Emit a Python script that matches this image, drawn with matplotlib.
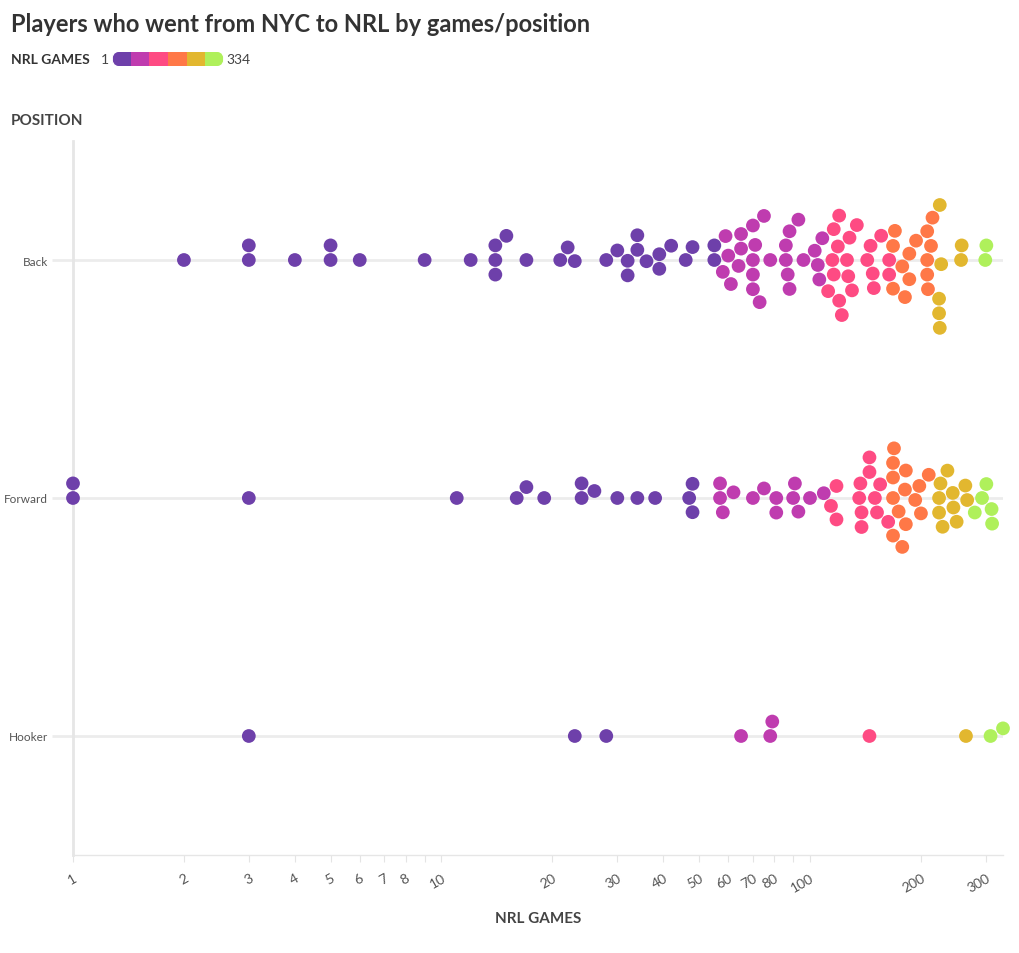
import numpy as np
import matplotlib.pyplot as plt
from matplotlib.patches import FancyBboxPatch, Rectangle

# NRL games per player, by position
positions = ["Back", "Forward", "Hooker"]

back_games = [2, 3, 3, 4, 5, 5, 6, 9, 12,
              14, 15, 14, 14, 17, 22, 21, 23, 28, 30, 32, 34, 34, 32, 36, 39, 39, 42, 46, 48, 55, 55,
              61, 65, 60, 65, 59, 64, 58, 70, 70, 75, 70, 78, 73, 71, 70, 86, 87, 93, 96, 88, 88, 86,
              103, 108, 106, 105,
              115, 120, 126, 119, 130, 112, 122, 134, 116, 128, 127, 120, 116, 143, 149, 156, 148, 146,
              164, 164,
              168, 181, 170, 186, 178, 194, 168, 186, 208, 215, 208, 213, 209, 208,
              224, 225, 227, 225, 224, 257, 258,
              299, 301]

forward_games = [1, 1, 3, 11, 16, 17, 19, 24, 24, 26, 30, 34, 38, 48, 48, 47,
                 57, 58, 57, 62, 70, 75, 81, 81, 93, 100, 91, 90, 109,
                 118, 118, 114, 136, 145, 145, 155, 138, 152, 138, 150, 137, 163,
                 169, 178, 168, 182, 168, 182, 200, 210, 168, 181, 198, 174, 193, 168,
                 224, 236, 224, 245, 229, 250, 267, 264, 244, 226,
                 293, 311, 280, 312, 301]

hooker_games = [3, 23, 28, 65, 78, 79, 145, 265, 309, 334]

games_min, games_max = 1, 334
warm = ["#6e40aa", "#bf3caf", "#fe4b83", "#ff7847", "#e2b72f", "#aff05b"]

xticks = [1, 2, 3, 4, 5, 6, 7, 8, 9, 10, 20, 30, 40, 50, 60, 70, 80, 90, 100, 200, 300]
xlabels = ["1", "2", "3", "4", "5", "6", "7", "8", "", "10", "20", "30", "40", "50",
           "60", "70", "80", "", "100", "200", "300"]


def bin_colour(v):
    step = (games_max - games_min) / len(warm)
    return warm[min(int((v - games_min) / step), len(warm) - 1)]


def swarm(xpix, diam):
    # greedy beeswarm in pixel space: x stays exact, y moves off the line
    order = np.argsort(xpix, kind="stable")
    ys = np.zeros(len(xpix))
    placed = []
    for i in order:
        x = xpix[i]
        near = [(px, py) for px, py in placed if abs(px - x) < diam]
        cands = [0.0]
        for px, py in near:
            dy = np.sqrt(diam ** 2 - (px - x) ** 2)
            cands += [py + dy, py - dy]
        cands.sort(key=lambda c: (round(abs(c), 6), -c))
        for c in cands:
            if all((px - x) ** 2 + (py - c) ** 2 >= diam ** 2 - 1e-6 for px, py in near):
                ys[i] = c
                break
        placed.append((x, ys[i]))
    return ys


W, H = 1020, 954
fig = plt.figure(figsize=(W / 100, H / 100), dpi=100)
ax = fig.add_axes([73 / W, (H - 856) / H, (1003 - 73) / W, (856 - 142) / H])
ax.set_xscale("log")
ax.set_xlim(games_min, games_max)
ax.set_ylim(2.5, -0.5)

for k in range(len(positions)):
    ax.axhline(k, color="#ececec", lw=2, zorder=0)

groups = [back_games, forward_games, hooker_games]
for k, g in enumerate(groups):
    g = np.array(g, dtype=float)
    pts = ax.transData.transform(np.column_stack([g, np.full(len(g), k)]))
    dy = swarm(pts[:, 0], 14.6)
    pts[:, 1] += dy
    data = ax.transData.inverted().transform(pts)
    ax.scatter(data[:, 0], data[:, 1], s=98, c=[bin_colour(v) for v in g],
               linewidths=0, zorder=3, clip_on=False)

ax.set_yticks(range(len(positions)))
ax.set_yticklabels(positions, fontsize=8.5, color="#555555", family="Lato")
ax.tick_params(axis="y", length=15, width=2, color="#ececec", pad=3)

ax.set_xticks(xticks)
ax.set_xticklabels(xlabels, rotation=30, ha="right", rotation_mode="anchor",
                   fontsize=10, color="#555555", family="Lato")
ax.xaxis.set_minor_locator(plt.NullLocator())
ax.tick_params(axis="x", length=5, width=0.8, color="#e4e4e4", pad=7)

for s in ["top", "right"]:
    ax.spines[s].set_visible(False)
ax.spines["left"].set_color("#e6e6e6")
ax.spines["left"].set_linewidth(2)
ax.spines["bottom"].set_color("#e6e6e6")
ax.spines["bottom"].set_linewidth(1)

ax.set_xlabel("NRL GAMES", fontsize=11, fontweight="bold", color="#444444",
              family="Lato", labelpad=12)

fig.text(11 / W, 1 - 24 / H, "Players who went from NYC to NRL by games/position",
         fontsize=17, fontweight="bold", color="#333333", family="Lato", va="center")
fig.text(11 / W, 1 - 121 / H, "POSITION", fontsize=11, fontweight="bold",
         color="#444444", family="Lato", va="center")

# colour legend
fig.text(11 / W, 1 - 60 / H, "NRL GAMES", fontsize=10, fontweight="bold",
         color="#333333", family="Lato", va="center")
fig.text(101 / W, 1 - 60 / H, "1", fontsize=10, color="#444444", family="Lato", va="center")
fig.text(226 / W, 1 - 60 / H, "334", fontsize=10, color="#444444", family="Lato", va="center")
lax = fig.add_axes([112 / W, 1 - 67 / H, 112 / W, 14 / H])
lax.set_xlim(0, len(warm))
lax.set_ylim(0, 1)
lax.axis("off")
clip = FancyBboxPatch((0, 0), len(warm), 1, boxstyle="round,pad=0,rounding_size=0.35",
                      mutation_aspect=1 / 0.42, transform=lax.transData,
                      facecolor="none", edgecolor="none")
lax.add_patch(clip)
for i, c in enumerate(warm):
    r = Rectangle((i, 0), 1, 1, facecolor=c, edgecolor="none")
    lax.add_patch(r)
    r.set_clip_path(clip)

fig.savefig("out.png", dpi=100)
